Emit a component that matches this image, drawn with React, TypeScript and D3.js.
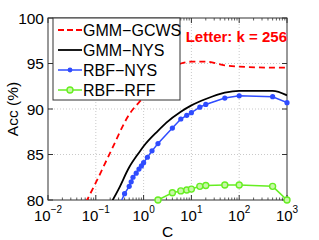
import React from 'react';
import * as d3 from 'd3';

// values
const gcwsC = [0.05, 0.1, 0.2, 0.5, 1, 2, 4, 6, 10, 20, 50, 100, 500, 1000];
const gcwsAcc = [78.8, 81.9, 85.2, 89.4, 91.3, 93.3, 94.6, 95.0, 95.2, 95.2, 94.8, 94.65, 94.55, 94.55];

const gmmNysC = [0.2, 0.3, 0.5, 0.8, 1, 2, 3, 6, 10, 20, 50, 100, 500, 1000];
const gmmNysAcc = [79.5, 81.2, 83.6, 85.2, 85.9, 87.6, 88.5, 89.7, 90.4, 91.1, 91.8, 92.0, 92.0, 91.5];

const rbfNysC = [0.3, 0.4, 0.5, 0.55, 0.6, 0.7, 0.8, 0.9, 1, 1.2, 1.5, 2, 4, 6, 8, 10, 15, 20, 50, 100, 500, 1000];
const rbfNysAcc = [79.2, 80.7, 81.5, 82.0, 82.5, 82.95, 83.4, 83.75, 84.1, 84.7, 85.4, 86.2, 87.9, 88.9, 89.3, 89.6, 90.2, 90.5, 91.2, 91.45, 91.35, 90.7];

const rffC = [2, 4, 6, 8, 10, 15, 20, 50, 100, 500, 1000];
const rffAcc = [80.0, 80.8, 81.0, 81.1, 81.2, 81.5, 81.6, 81.65, 81.65, 81.5, 80.0];

const xTickExp = [-2, -1, 0, 1, 2, 3];
const yTicks = [80, 85, 90, 95, 100];
const legendNames = ['GMM\u2212GCWS', 'GMM\u2212NYS', 'RBF\u2212NYS', 'RBF\u2212RFF'];

const RED = '#ff0000';
const BLUE = '#2f4cff';
const GREEN = '#66ee22';
const FONT = '"Liberation Sans", Arial, sans-serif';

const left = 48, right = 287, top = 18, bottom = 200;

const App = () => {
  const x = d3.scaleLog().domain([0.01, 1000]).range([left, right]);
  const y = d3.scaleLinear().domain([80, 100]).range([bottom, top]);

  const line = d3.line<[number, number]>()
    .x(d => x(d[0]))
    .y(d => y(d[1]));
  const smooth = d3.line<[number, number]>()
    .x(d => x(d[0]))
    .y(d => y(d[1]))
    .curve(d3.curveMonotoneX);

  const zip = (a: number[], b: number[]) => a.map((c, i) => [c, b[i]] as [number, number]);
  const gcws = zip(gcwsC, gcwsAcc);
  const gnys = zip(gmmNysC, gmmNysAcc);
  const rnys = zip(rbfNysC, rbfNysAcc);
  const rff = zip(rffC, rffAcc);

  const minor: number[] = [];
  for (let e = -2; e < 3; e++) {
    for (let m = 2; m <= 9; m++) minor.push(m * Math.pow(10, e));
  }

  const axisColor = '#333';
  const legendRows = [30, 50, 70, 90];

  return (
    <svg width={319} height={240} style={{ position: 'absolute', left: 0, top: 0, background: '#fff' }}
      fontFamily={FONT}>
      <defs>
        <clipPath id="plot">
          <rect x={left} y={top} width={right - left} height={bottom - top} />
        </clipPath>
      </defs>
      <rect x={0} y={0} width={319} height={240} fill="#fff" />

      {/* grid */}
      {xTickExp.slice(1, -1).map(e => (
        <line key={'gx' + e} x1={x(Math.pow(10, e))} x2={x(Math.pow(10, e))} y1={top} y2={bottom}
          stroke="#bbb" strokeWidth={0.8} strokeDasharray="1,2" />
      ))}
      {yTicks.slice(1, -1).map(v => (
        <line key={'gy' + v} x1={left} x2={right} y1={y(v)} y2={y(v)}
          stroke="#bbb" strokeWidth={0.8} strokeDasharray="1,2" />
      ))}

      {/* ticks */}
      {xTickExp.map(e => {
        const px = x(Math.pow(10, e));
        return (
          <g key={'tx' + e}>
            <line x1={px} x2={px} y1={bottom} y2={bottom - 5} stroke={axisColor} />
            <line x1={px} x2={px} y1={top} y2={top + 5} stroke={axisColor} />
          </g>
        );
      })}
      {minor.map((c, i) => (
        <g key={'mx' + i}>
          <line x1={x(c)} x2={x(c)} y1={bottom} y2={bottom - 2.5} stroke={axisColor} strokeWidth={0.8} />
          <line x1={x(c)} x2={x(c)} y1={top} y2={top + 2.5} stroke={axisColor} strokeWidth={0.8} />
        </g>
      ))}
      {yTicks.map(v => (
        <g key={'ty' + v}>
          <line x1={left} x2={left + 5} y1={y(v)} y2={y(v)} stroke={axisColor} />
          <line x1={right} x2={right - 5} y1={y(v)} y2={y(v)} stroke={axisColor} />
        </g>
      ))}

      {/* axes box */}
      <rect x={left} y={top} width={right - left} height={bottom - top} fill="none" stroke={axisColor} strokeWidth={1} />

      {/* series */}
      <g clipPath="url(#plot)">
        <path d={smooth(gcws) || ''} fill="none" stroke={RED} strokeWidth={1.8} strokeDasharray="6,4" />
        <path d={smooth(gnys) || ''} fill="none" stroke="#000" strokeWidth={1.8} />
        <path d={line(rnys) || ''} fill="none" stroke={BLUE} strokeWidth={1.5} />
        <path d={line(rff) || ''} fill="none" stroke={GREEN} strokeWidth={1.5} />
      </g>
      {rnys.filter(d => d[1] >= 80).map((d, i) => (
        <circle key={'b' + i} cx={x(d[0])} cy={y(d[1])} r={2.6} fill={BLUE} />
      ))}
      {rff.map((d, i) => (
        <circle key={'g' + i} cx={x(d[0])} cy={y(d[1])} r={3} fill="#c8f7a8" stroke={GREEN} strokeWidth={1.4} />
      ))}

      {/* tick labels */}
      {xTickExp.map(e => {
        const px = x(Math.pow(10, e));
        return (
          <text key={'lx' + e} x={px} y={221} fontSize={15} textAnchor="middle" fill="#000">
            <tspan>10</tspan>
            <tspan fontSize={10} dy={-8}>{e < 0 ? '\u2212' + Math.abs(e) : String(e)}</tspan>
          </text>
        );
      })}
      {yTicks.map(v => (
        <text key={'ly' + v} x={44} y={y(v) + 5.5} fontSize={15.5} textAnchor="end" fill="#000">{v}</text>
      ))}

      <text x={(left + right) / 2} y={237} fontSize={15.5} textAnchor="middle">C</text>
      <text transform={`translate(18,${(top + bottom) / 2}) rotate(-90)`} fontSize={15.5} textAnchor="middle">Acc (%)</text>

      <text x={287} y={42} fontSize={15} fontWeight="bold" fill={RED} textAnchor="end">Letter: k = 256</text>

      {/* legend */}
      <rect x={53} y={top} width={127} height={82} fill="#fff" stroke={axisColor} strokeWidth={1} />
      {legendNames.map((name, i) => {
        const ly = legendRows[i];
        return (
          <g key={'lg' + i}>
            {i === 0 && <line x1={58} x2={82} y1={ly} y2={ly} stroke={RED} strokeWidth={1.8} strokeDasharray="6,3" />}
            {i === 1 && <line x1={58} x2={82} y1={ly} y2={ly} stroke="#000" strokeWidth={1.8} />}
            {i === 2 && (
              <g>
                <line x1={58} x2={82} y1={ly} y2={ly} stroke={BLUE} strokeWidth={1.5} />
                <circle cx={70} cy={ly} r={2.4} fill={BLUE} />
              </g>
            )}
            {i === 3 && (
              <g>
                <line x1={58} x2={82} y1={ly} y2={ly} stroke={GREEN} strokeWidth={1.5} />
                <circle cx={70} cy={ly} r={3} fill="#c8f7a8" stroke={GREEN} strokeWidth={1.4} />
              </g>
            )}
            <text x={83} y={ly + 6} fontSize={16} fill="#000">{name}</text>
          </g>
        );
      })}
    </svg>
  );
};

export default App;
